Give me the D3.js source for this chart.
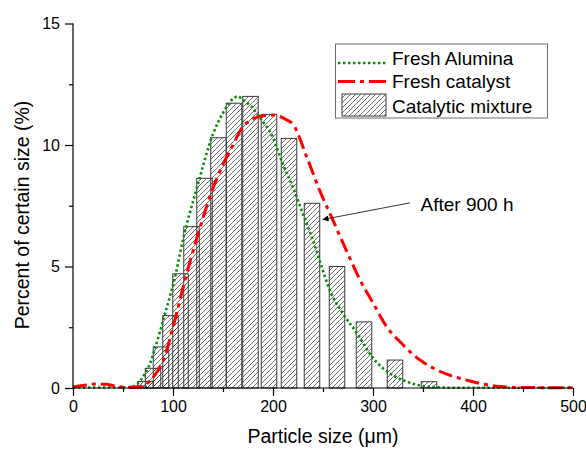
<!DOCTYPE html>
<html><head><meta charset="utf-8">
<script src="https://cdn.jsdelivr.net/npm/d3@7"></script>
<style>
body{margin:0;background:#fff;}
text{font-family:"Liberation Sans",Arial,sans-serif;}
</style></head>
<body><svg id="chart" width="586" height="453"></svg>
<script>
// ---- data ----
const barSizes = [65.5, 72.4, 80, 88, 97.5, 107.5, 118.5, 131.5, 145.5, 161, 177.5, 196, 216, 239, 264, 291, 322, 356];
const mixtureValues = [0.08, 0.27, 0.81, 1.69, 2.98, 4.70, 6.64, 8.63, 10.3, 11.72, 12.0, 11.26, 10.27, 7.6, 5.0, 2.72, 1.15, 0.26];

const aluminaX = [0, 20, 40, 55, 60, 64, 70, 77, 81, 93, 102, 110, 124, 140, 150, 160, 165, 170, 178, 187, 200, 210, 220, 230, 240, 247, 257, 270, 284, 300, 317, 334, 350, 365, 380, 400, 500];
const aluminaY = [0.02, 0.02, 0.02, 0.03, 0.06, 0.16, 0.46, 1.0, 1.5, 3.2, 4.56, 6.1, 8.25, 10.45, 11.32, 11.9, 12.0, 11.85, 11.6, 11.12, 10.3, 9.2, 8.25, 7.16, 6.07, 5.2, 4.0, 3.06, 2.25, 1.23, 0.6, 0.26, 0.08, 0.03, 0.01, 0.01, 0.01];

const catalystX = [0, 10, 22, 32, 45, 56, 65, 70, 76, 83, 90, 100, 113, 127, 138, 150, 160, 168, 180, 190, 200, 213, 220, 234, 247, 260, 274, 287, 300, 314, 327, 347, 364, 393, 427, 450, 500];
const catalystY = [0.04, 0.1, 0.16, 0.15, 0.06, 0.02, 0.04, 0.08, 0.25, 0.6, 1.1, 2.5, 4.6, 6.6, 8.0, 9.2, 10.0, 10.65, 11.07, 11.2, 11.23, 11.05, 10.85, 9.48, 8.1, 6.9, 5.6, 4.45, 3.5, 2.5, 1.9, 1.15, 0.74, 0.33, 0.06, 0.02, 0.01];

const xTicks = [0, 100, 200, 300, 400, 500];
const xMinor = [50, 150, 250, 350, 450];
const yTicks = [0, 5, 10, 15];
const yMinor = [2.5, 7.5, 12.5];

const seriesNames = ["Fresh Alumina", "Fresh catalyst", "Catalytic mixture"];
const annotationText = "After 900 h";
const annotationFrom = [337, 7.62];
const annotationTo = [249.5, 6.93];
const annotationAt = [347.5, 7.3];
const barWidth = 15.5; // in µm

// ---- layout ----
const svg = d3.select("#chart");
const x = d3.scaleLinear().domain([0, 500]).range([73, 573]);
const y = d3.scaleLinear().domain([0, 15]).range([388, 23.5]);

const defs = svg.append("defs");
const pat = defs.append("pattern").attr("id", "hatch").attr("patternUnits", "userSpaceOnUse")
  .attr("width", 5).attr("height", 5);
pat.append("path").attr("d", "M-1,1 L1,-1 M0,5 L5,0 M4,6 L6,4")
  .attr("stroke", "#333").attr("stroke-width", 0.7);
defs.append("marker").attr("id", "arrow").attr("viewBox", "0 0 10 10")
  .attr("refX", 10).attr("refY", 5).attr("markerWidth", 10).attr("markerHeight", 6)
  .attr("markerUnits", "userSpaceOnUse").attr("orient", "auto")
  .append("path").attr("d", "M0,0 L10,5 L0,10 Z").attr("fill", "#000");

// bars
const bars = barSizes.map((s, i) => ({s, v: mixtureValues[i]}));
svg.append("g").selectAll("rect").data(bars).join("rect")
  .attr("x", d => x(d.s - barWidth / 2))
  .attr("width", d => x(d.s + barWidth / 2) - x(d.s - barWidth / 2))
  .attr("y", d => y(d.v))
  .attr("height", d => y(0) - y(d.v))
  .attr("fill", "url(#hatch)")
  .attr("stroke", "#3a3a3a").attr("stroke-width", 1);

// curves
const line = d3.line().x(d => x(d[0])).y(d => y(d[1])).curve(d3.curveMonotoneX);
const alum = aluminaX.map((v, i) => [v, aluminaY[i]]);
const cat = catalystX.map((v, i) => [v, catalystY[i]]);
const greenStyle = {stroke: "#0a8a0a", w: 2.6, dash: "2.4,2.6"};
const redStyle = {stroke: "#ff0000", w: 3, dash: "14,5,4,5"};
svg.append("path").attr("d", line(alum)).attr("fill", "none")
  .attr("stroke", greenStyle.stroke).attr("stroke-width", greenStyle.w).attr("stroke-dasharray", greenStyle.dash);
svg.append("path").attr("d", line(cat)).attr("fill", "none")
  .attr("stroke", redStyle.stroke).attr("stroke-width", redStyle.w).attr("stroke-dasharray", redStyle.dash);

// axes
const xAxis = d3.axisBottom(x).tickValues(xTicks).tickSize(8).tickPadding(5).tickFormat(d3.format("d"));
const gx = svg.append("g").attr("transform", `translate(0,${y(0)})`).call(xAxis);
gx.selectAll(".tick text").attr("font-size", 16).attr("fill", "#000").attr("font-family", "Liberation Sans, Arial, sans-serif");
const gxm = svg.append("g").attr("transform", `translate(0,${y(0)})`)
  .call(d3.axisBottom(x).tickValues(xMinor).tickSize(4).tickFormat(""));
gxm.select(".domain").remove();

const yAxis = d3.axisLeft(y).tickValues(yTicks).tickSize(8).tickPadding(5).tickFormat(d3.format("d"));
const gy = svg.append("g").attr("transform", `translate(${x(0)},0)`).call(yAxis);
gy.selectAll(".tick text").attr("font-size", 16).attr("fill", "#000").attr("font-family", "Liberation Sans, Arial, sans-serif");
const gym = svg.append("g").attr("transform", `translate(${x(0)},0)`)
  .call(d3.axisLeft(y).tickValues(yMinor).tickSize(4).tickFormat(""));
gym.select(".domain").remove();
svg.selectAll(".domain, .tick line").attr("stroke", "#000").attr("stroke-width", 1.2);
gx.select(".domain").attr("d", `M${x(0)},0H${x(500)}`);
gy.select(".domain").attr("d", `M0,${y(0)}V${y(15)}`);

// titles
svg.append("text").attr("x", (x(0) + x(500)) / 2).attr("y", 443).attr("text-anchor", "middle")
  .attr("font-size", 19.5).text("Particle size (μm)");
svg.append("text").attr("transform", `translate(29,215) rotate(-90)`).attr("text-anchor", "middle")
  .attr("font-size", 19.5).text("Percent of certain size (%)");

// annotation
svg.append("line").attr("x1", x(annotationFrom[0])).attr("y1", y(annotationFrom[1]))
  .attr("x2", x(annotationTo[0])).attr("y2", y(annotationTo[1]))
  .attr("stroke", "#000").attr("stroke-width", 0.8).attr("marker-end", "url(#arrow)");
svg.append("text").attr("x", x(annotationAt[0])).attr("y", y(annotationAt[1]))
  .attr("font-size", 19).text(annotationText);

// legend
const lg = svg.append("g");
lg.append("rect").attr("x", 335.5).attr("y", 44).attr("width", 212).attr("height", 74)
  .attr("fill", "#fff").attr("stroke", "#6e6e6e").attr("stroke-width", 1);
lg.append("line").attr("x1", 338).attr("x2", 387).attr("y1", 63).attr("y2", 63)
  .attr("stroke", greenStyle.stroke).attr("stroke-width", greenStyle.w).attr("stroke-dasharray", greenStyle.dash);
lg.append("line").attr("x1", 338).attr("x2", 387).attr("y1", 81.5).attr("y2", 81.5)
  .attr("stroke", redStyle.stroke).attr("stroke-width", redStyle.w).attr("stroke-dasharray", "17,5,4,5");
lg.append("rect").attr("x", 342).attr("y", 94).attr("width", 44).attr("height", 22)
  .attr("fill", "url(#hatch)").attr("stroke", "#3a3a3a").attr("stroke-width", 1);
const ly = [65, 87.5, 112.5];
seriesNames.forEach((n, i) => lg.append("text").attr("x", 392).attr("y", ly[i]).attr("font-size", 19).text(n));
</script></body></html>
